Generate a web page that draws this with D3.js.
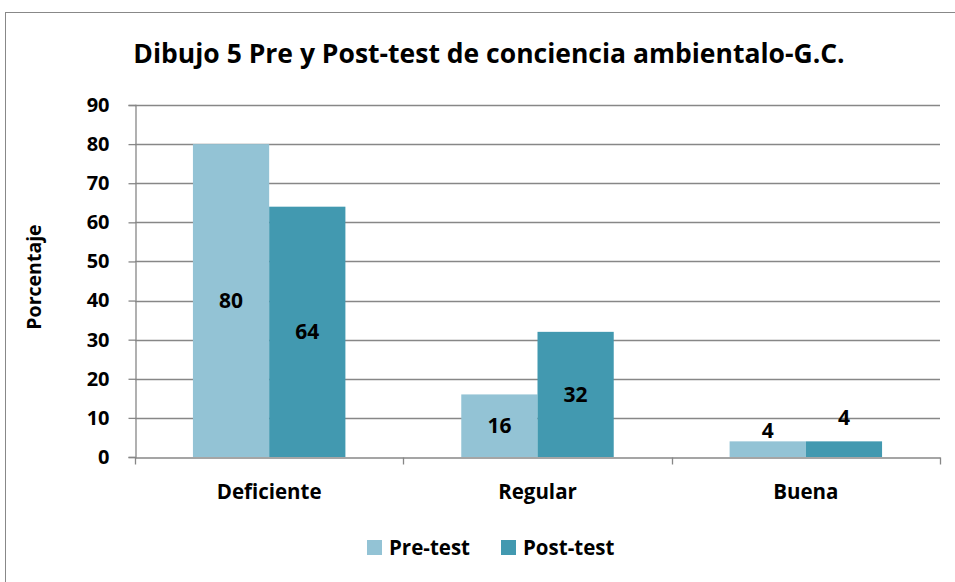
<!DOCTYPE html>
<html>
<head>
<meta charset="utf-8">
<script src="https://cdn.jsdelivr.net/npm/d3@7"></script>
<style>
  body { margin: 0; background: #fff; }
  text { font-family: "Open Sans", "Noto Sans", sans-serif; font-weight: bold; fill: #000; }
</style>
</head>
<body>
<svg id="chart"></svg>
<script>
  var categories = ["Deficiente", "Regular", "Buena"];
  var series = ["Pre-test", "Post-test"];
  var preTest = [80, 16, 4];
  var postTest = [64, 32, 4];
  var yTicks = [0, 10, 20, 30, 40, 50, 60, 70, 80, 90];
  var colors = ["#93c3d5", "#4299b0"];

  var svgWidth = 955, svgHeight = 582;
  var svg = d3.select("#chart")
    .attr("width", svgWidth)
    .attr("height", svgHeight);

  // chart frame
  svg.append("rect")
    .attr("x", 5.5).attr("y", 12.5)
    .attr("width", 960).attr("height", 600)
    .attr("fill", "none").attr("stroke", "#888");

  var plotLeft = 135, plotRight = 940, plotTop = 105, plotBottom = 457;

  var x = d3.scaleBand().domain(categories).range([plotLeft, plotRight]);
  var inner = d3.scaleBand().domain(series).range([0, x.bandwidth()]).paddingOuter(0.76);
  var y = d3.scaleLinear().domain([0, 90]).range([plotBottom, plotTop]);

  // gridlines
  svg.append("g").selectAll("line")
    .data(yTicks.slice(1))
    .enter().append("line")
    .attr("x1", plotLeft).attr("x2", plotRight)
    .attr("y1", function(d) { return Math.round(y(d)) + 0.5; })
    .attr("y2", function(d) { return Math.round(y(d)) + 0.5; })
    .attr("stroke", "#878787").attr("stroke-width", 1.3);

  var rows = categories.map(function(c, i) {
    return [{cat: c, s: series[0], v: preTest[i], k: 0}, {cat: c, s: series[1], v: postTest[i], k: 1}];
  });
  var flat = [].concat.apply([], rows);

  svg.append("g").selectAll("rect")
    .data(flat)
    .enter().append("rect")
    .attr("x", function(d) { return x(d.cat) + inner(d.s); })
    .attr("y", function(d) { return y(d.v); })
    .attr("width", inner.bandwidth())
    .attr("height", function(d) { return plotBottom - y(d.v); })
    .attr("fill", function(d) { return colors[d.k]; });

  // y axis
  var yAxis = svg.append("g")
    .attr("transform", "translate(" + (plotLeft + 0.5) + ",0)")
    .call(d3.axisLeft(y).tickValues(yTicks).tickSize(7).tickPadding(19));
  yAxis.select(".domain").attr("stroke", "#878787").attr("stroke-width", 1.3);
  yAxis.selectAll(".tick line").attr("stroke", "#878787").attr("stroke-width", 1.3);
  yAxis.selectAll("text").style("font-size", "20px").attr("font-family", null);

  // x axis
  var xAxis = svg.append("g")
    .attr("transform", "translate(0," + (plotBottom + 0.5) + ")")
    .call(d3.axisBottom(x).tickSize(0).tickPadding(27));
  xAxis.select(".domain").attr("stroke", "#878787").attr("stroke-width", 1.3);
  xAxis.selectAll(".tick line").remove();
  xAxis.selectAll("text").style("font-size", "20.5px").attr("font-family", null);
  var bounds = categories.map(function(c) { return x(c); }).concat([plotRight]);
  xAxis.selectAll(".sep")
    .data(bounds)
    .enter().append("line")
    .attr("x1", function(d) { return Math.round(d) + 0.5; })
    .attr("x2", function(d) { return Math.round(d) + 0.5; })
    .attr("y1", 0).attr("y2", 7)
    .attr("stroke", "#878787").attr("stroke-width", 1.3);

  // value labels
  svg.append("g").selectAll("text")
    .data(flat)
    .enter().append("text")
    .attr("x", function(d) { return x(d.cat) + inner(d.s) + inner.bandwidth() / 2; })
    .attr("y", function(d) {
      var h = plotBottom - y(d.v);
      if (h < 30) return y(d.v) - (d.k === 0 ? 11 : 24);
      return (y(d.v) + plotBottom) / 2;
    })
    .attr("dy", "0.35em")
    .attr("text-anchor", "middle")
    .style("font-size", "21px")
    .text(function(d) { return d.v; });

  // title
  svg.append("text")
    .attr("x", 489).attr("y", 63)
    .attr("text-anchor", "middle")
    .style("font-size", "26.5px")
    .text("Dibujo 5 Pre y Post-test de conciencia ambientalo-G.C.");

  // y axis title
  svg.append("text")
    .attr("transform", "translate(41,277) rotate(-90)")
    .attr("text-anchor", "middle")
    .style("font-size", "19.5px")
    .text("Porcentaje");

  // legend
  var legend = svg.append("g").selectAll("g")
    .data(series)
    .enter().append("g")
    .attr("transform", function(d, i) { return "translate(" + (367 + i * 134) + ",540)"; });
  legend.append("rect")
    .attr("width", 15).attr("height", 15)
    .attr("fill", function(d, i) { return colors[i]; });
  legend.append("text")
    .attr("x", 22).attr("y", 8).attr("dy", "0.35em")
    .style("font-size", "20.5px")
    .text(function(d) { return d; });
</script>
</body>
</html>
